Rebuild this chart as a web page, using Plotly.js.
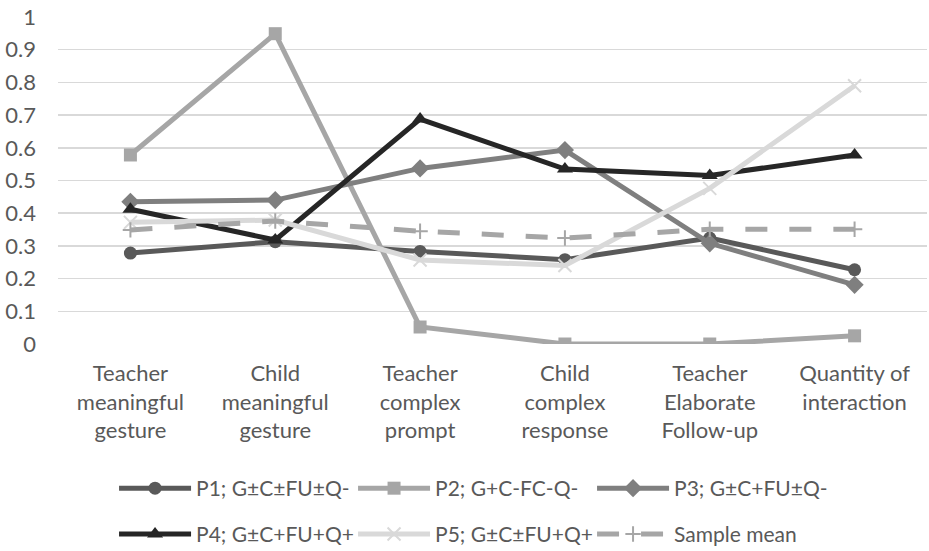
<!DOCTYPE html>
<html>
<head>
<meta charset="utf-8">
<script src="https://cdn.plot.ly/plotly-3.0.1.min.js"></script>
<style>
html, body { margin: 0; padding: 0; background: #ffffff; }
#chart { width: 929px; height: 551px; }
</style>
</head>
<body>
<div id="chart"></div>
<script>
const categories = [
  "Teacher<br>meaningful<br>gesture",
  "Child<br>meaningful<br>gesture",
  "Teacher<br>complex<br>prompt",
  "Child<br>complex<br>response",
  "Teacher<br>Elaborate<br>Follow-up",
  "Quantity of<br>interaction"
];
const seriesNames = [
  "P1; G±C±FU±Q-",
  "P2; G+C-FC-Q-",
  "P3; G±C+FU±Q-",
  "P4; G±C+FU+Q+",
  "P5; G±C±FU+Q+",
  "Sample mean"
];
const p1 = [0.278, 0.313, 0.283, 0.258, 0.324, 0.227];
const p2 = [0.578, 0.949, 0.052, 0.0, 0.0, 0.025];
const p3 = [0.435, 0.440, 0.537, 0.593, 0.308, 0.181];
const p4 = [0.412, 0.318, 0.688, 0.535, 0.515, 0.578];
const p5 = [0.372, 0.379, 0.257, 0.240, 0.476, 0.790];
const sampleMean = [0.349, 0.376, 0.345, 0.324, 0.351, 0.351];
const yTicks = [0, 0.1, 0.2, 0.3, 0.4, 0.5, 0.6, 0.7, 0.8, 0.9, 1];
const yTickText = ["0", "0.1", "0.2", "0.3", "0.4", "0.5", "0.6", "0.7", "0.8", "0.9", "1"];

const FONT = "Lato, 'Open Sans', sans-serif";
const TXT = "#595959";

const styles = [
  {color: "#595959", symbol: "circle", size: 13, dash: "solid", legend: "legend"},
  {color: "#a6a6a6", symbol: "square", size: 13, dash: "solid", legend: "legend"},
  {color: "#7f7f7f", symbol: "diamond", size: 14, dash: "solid", legend: "legend"},
  {color: "#262626", symbol: "triangle-up", size: 14, dash: "solid", legend: "legend2"},
  {color: "#d9d9d9", symbol: "x-thin-open", size: 13, dash: "solid", legend: "legend2"},
  {color: "#a6a6a6", symbol: "cross-thin-open", size: 11, dash: "22px,22px", legend: "legend2"}
];
const allSeries = [p1, p2, p3, p4, p5, sampleMean];

const traces = allSeries.map((vals, i) => {
  const s = styles[i];
  return {
    type: "scatter",
    mode: "lines+markers",
    x: categories,
    y: vals,
    name: seriesNames[i],
    legend: s.legend,
    line: {color: s.color, width: 5, dash: s.dash},
    marker: {color: s.color, symbol: s.symbol, size: s.size,
             line: {color: s.color, width: s.symbol.indexOf("thin") >= 0 ? 2 : 0}},
    hoverinfo: "x+y+name"
  };
});

const legendCommon = {
  orientation: "h",
  xanchor: "left",
  yanchor: "middle",
  font: {family: FONT, size: 21, color: TXT},
  itemwidth: 72,
  entrywidth: 152,
  entrywidthmode: "pixels",
  bgcolor: "rgba(0,0,0,0)",
  borderwidth: 0,
  traceorder: "normal"
};

const layout = {
  width: 929,
  height: 551,
  margin: {l: 58, r: 2, t: 17, b: 207, pad: 0, autoexpand: false},
  paper_bgcolor: "#ffffff",
  plot_bgcolor: "#ffffff",
  font: {family: FONT, size: 22, color: TXT},
  showlegend: true,
  xaxis: {
    type: "category",
    range: [-0.5, 5.5],
    showgrid: false,
    zeroline: false,
    showline: false,
    ticks: "",
    ticklabelstandoff: 14,
    tickfont: {family: FONT, size: 22, color: TXT},
    fixedrange: true,
    automargin: false
  },
  yaxis: {
    range: [0, 1],
    tickmode: "array",
    tickvals: yTicks,
    ticktext: yTickText,
    showgrid: true,
    gridcolor: "#d9d9d9",
    gridwidth: 1.5,
    zeroline: false,
    showline: false,
    ticks: "",
    ticklabelstandoff: 21,
    tickfont: {family: FONT, size: 22, color: TXT},
    fixedrange: true,
    automargin: false
  },
  legend: Object.assign({}, legendCommon, {x: 0.0645, y: -0.442}),
  legend2: Object.assign({}, legendCommon, {x: 0.0645, y: -0.582})
};

Plotly.newPlot("chart", traces, layout, {displayModeBar: false, staticPlot: true});
</script>
</body>
</html>
